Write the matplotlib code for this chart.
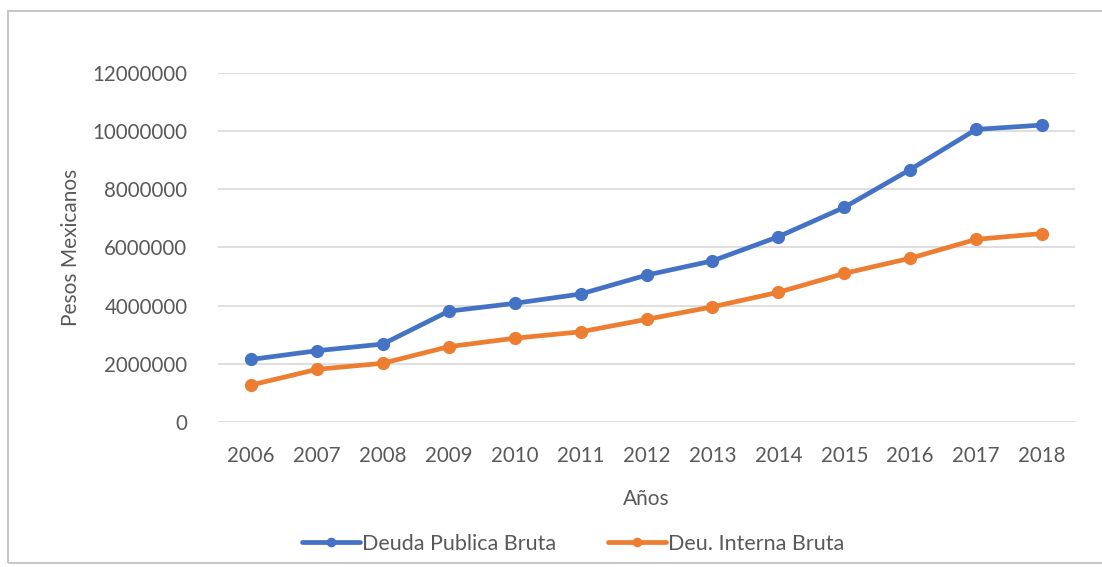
import matplotlib
matplotlib.use("Agg")
import matplotlib.pyplot as plt
from matplotlib.patches import Rectangle

years = ["2006", "2007", "2008", "2009", "2010", "2011", "2012",
         "2013", "2014", "2015", "2016", "2017", "2018"]
deuda_publica = [2150000, 2450000, 2680000, 3810000, 4080000, 4400000, 5050000,
                 5540000, 6370000, 7380000, 8680000, 10060000, 10210000]
deuda_interna = [1270000, 1810000, 2020000, 2590000, 2880000, 3100000, 3530000,
                 3960000, 4460000, 5110000, 5630000, 6280000, 6480000]
yticks = [0, 2000000, 4000000, 6000000, 8000000, 10000000, 12000000]

plt.rcParams['font.family'] = ['Lato', 'DejaVu Sans']
txt = '#595959'
blue = '#4472C4'
orange = '#ED7D31'

fig = plt.figure(figsize=(11.02, 5.67), dpi=100)
fig.patch.set_facecolor('white')
# chart border
fig.patches.append(Rectangle((8/1102, 1 - 563/567), 1.2, (563 - 11)/567,
                             transform=fig.transFigure, fill=False,
                             edgecolor='#c8c8c8', linewidth=1.5))

ax = fig.add_axes([218/1102, 1 - 422/567, (1075 - 218)/1102, (422 - 73)/567])
x = list(range(len(years)))
ax.plot(x, deuda_publica, color=blue, lw=3.4, marker='o', ms=8.5,
        label='Deuda Publica Bruta', solid_capstyle='round')
ax.plot(x, deuda_interna, color=orange, lw=3.4, marker='o', ms=8.5,
        label='Deu. Interna Bruta', solid_capstyle='round')

ax.set_xlim(-0.5, len(years) - 0.5)
ax.set_ylim(0, 12000000)
ax.set_yticks(yticks)
ax.set_yticklabels([str(v) for v in yticks])
ax.set_xticks(x)
ax.set_xticklabels(years)
ax.grid(axis='y', color='#d9d9d9', lw=1.2)
ax.set_axisbelow(True)
for s in ax.spines.values():
    s.set_visible(False)
ax.tick_params(axis='both', length=0, labelsize=14.8, colors=txt)
ax.tick_params(axis='y', pad=22)
ax.tick_params(axis='x', pad=17)
ax.set_xlabel('Años', fontsize=15, color=txt, labelpad=17)
ax.set_ylabel('Pesos Mexicanos', fontsize=15, color=txt, labelpad=8)

fig.legend(loc='center', bbox_to_anchor=(573/1102, 1 - 544/567), ncol=2,
           frameon=False, fontsize=15.5, labelcolor=txt, handlelength=2.7,
           handletextpad=0.1, columnspacing=2.4, markerscale=0.7)

fig.savefig('out.png', dpi=100, facecolor='white')
